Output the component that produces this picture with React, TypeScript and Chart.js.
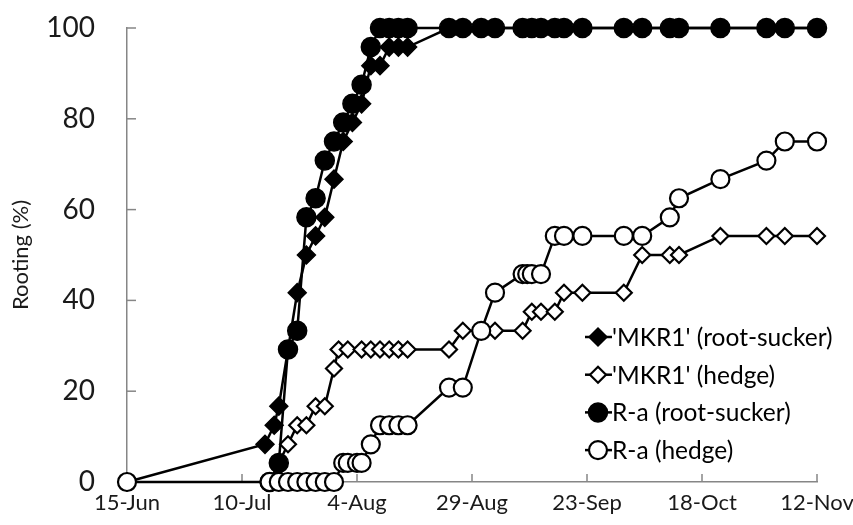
import { useEffect, useRef } from "react";
import { Chart, registerables } from "chart.js";

Chart.register(...registerables);

// x values are days after 15-Jun
const tickLabels = ["15-Jun", "10-Jul", "4-Aug", "29-Aug", "23-Sep", "18-Oct", "12-Nov"];
const yTicks = [0, 20, 40, 60, 80, 100];
const seriesNames = ["'MKR1' (root-sucker)", "'MKR1' (hedge)", "R-a (root-sucker)", "R-a (hedge)"];

const mkr1RootDays = [0, 30, 32, 33, 37, 39, 41, 43, 45, 47, 49, 51, 53, 55, 57, 59, 61, 70, 73, 77, 80, 86, 88, 90, 93, 95, 99, 108, 112, 118, 120, 129, 139, 143, 150];
const mkr1RootValues = [0, 8.3, 12.5, 16.7, 41.7, 50, 54.2, 58.3, 66.7, 75, 79.2, 83.3, 91.7, 91.7, 95.8, 95.8, 95.8, 100, 100, 100, 100, 100, 100, 100, 100, 100, 100, 100, 100, 100, 100, 100, 100, 100, 100];

const mkr1HedgeDays = [31, 35, 37, 39, 41, 43, 45, 46, 48, 51, 53, 55, 57, 59, 61, 70, 73, 80, 86, 88, 90, 93, 95, 99, 108, 112, 118, 120, 129, 139, 143, 150];
const mkr1HedgeValues = [0, 8.3, 12.5, 12.5, 16.7, 16.7, 25, 29.2, 29.2, 29.2, 29.2, 29.2, 29.2, 29.2, 29.2, 29.2, 33.3, 33.3, 33.3, 37.5, 37.5, 37.5, 41.7, 41.7, 41.7, 50, 50, 50, 54.2, 54.2, 54.2, 54.2];

const raRootDays = [31, 33, 35, 37, 39, 41, 43, 45, 47, 49, 51, 53, 55, 57, 59, 61, 70, 73, 77, 80, 86, 88, 90, 93, 95, 99, 108, 112, 118, 120, 129, 139, 143, 150];
const raRootValues = [0, 4.2, 29.2, 33.3, 58.3, 62.5, 70.8, 75, 79.2, 83.3, 87.5, 95.8, 100, 100, 100, 100, 100, 100, 100, 100, 100, 100, 100, 100, 100, 100, 100, 100, 100, 100, 100, 100, 100, 100];

const raHedgeDays = [0, 31, 33, 35, 37, 39, 41, 43, 45, 47, 48, 50, 51, 53, 55, 57, 59, 61, 70, 73, 77, 80, 86, 87, 88, 90, 93, 95, 99, 108, 112, 118, 120, 129, 139, 143, 150];
const raHedgeValues = [0, 0, 0, 0, 0, 0, 0, 0, 0, 4.2, 4.2, 4.2, 4.2, 8.3, 12.5, 12.5, 12.5, 12.5, 20.8, 20.8, 33.3, 41.7, 45.8, 45.8, 45.8, 45.8, 54.2, 54.2, 54.2, 54.2, 54.2, 58.3, 62.5, 66.7, 70.8, 75, 75];

const FONT = "Lato, 'DejaVu Sans', sans-serif";

type Style = { shape: "diamond" | "circle"; filled: boolean; r: number; bw: number };
const styles: Style[] = [
  { shape: "diamond", filled: true, r: 9, bw: 1.5 },
  { shape: "diamond", filled: false, r: 8, bw: 2.2 },
  { shape: "circle", filled: true, r: 9.5, bw: 1.5 },
  { shape: "circle", filled: false, r: 9, bw: 2.2 },
];

function drawMarker(ctx: CanvasRenderingContext2D, x: number, y: number, s: Style) {
  ctx.beginPath();
  if (s.shape === "circle") {
    ctx.arc(x, y, s.r, 0, Math.PI * 2);
  } else {
    ctx.moveTo(x - s.r, y);
    ctx.lineTo(x, y - s.r);
    ctx.lineTo(x + s.r, y);
    ctx.lineTo(x, y + s.r);
    ctx.closePath();
  }
  ctx.fillStyle = s.filled ? "#000" : "#fff";
  ctx.fill();
  ctx.lineWidth = s.bw;
  ctx.strokeStyle = "#000";
  ctx.stroke();
}

const zeroPadding = (scale: any) => {
  scale.paddingTop = 0;
  scale.paddingBottom = 0;
  scale.paddingLeft = 0;
  scale.paddingRight = 0;
};

const decorPlugin = {
  id: "decor",
  beforeDatasetsDraw(chart: any) {
    const { ctx, chartArea, scales } = chart;
    const x = scales.x;
    const y = scales.y;
    ctx.save();
    ctx.strokeStyle = "#868686";
    ctx.lineWidth = 1.5;
    x.ticks.forEach((t: any) => {
      const px = x.getPixelForValue(t.value);
      ctx.beginPath();
      ctx.moveTo(px, chartArea.bottom);
      ctx.lineTo(px, chartArea.bottom - 8);
      ctx.stroke();
    });
    y.ticks.forEach((t: any) => {
      const py = y.getPixelForValue(t.value);
      ctx.beginPath();
      ctx.moveTo(chartArea.left, py);
      ctx.lineTo(chartArea.left + 9, py);
      ctx.stroke();
    });
    ctx.restore();
  },
  afterDraw(chart: any) {
    const { ctx, chartArea } = chart;
    ctx.save();
    const x0 = chartArea.right - 232;
    const y0 = chartArea.top + 309;
    const step = 37.7;
    ctx.font = `24.5px ${FONT}`;
    ctx.textBaseline = "middle";
    ctx.textAlign = "left";
    seriesNames.forEach((name, i) => {
      const yy = y0 + i * step;
      ctx.beginPath();
      ctx.moveTo(x0, yy);
      ctx.lineTo(x0 + 27, yy);
      ctx.lineWidth = 2.5;
      ctx.strokeStyle = "#000";
      ctx.stroke();
      drawMarker(ctx, x0 + 13, yy, styles[i]);
      ctx.fillStyle = "#000";
      ctx.fillText(name, x0 + 27, yy + 1);
    });
    ctx.restore();
  },
};

export default function App() {
  const ref = useRef<HTMLCanvasElement | null>(null);

  useEffect(() => {
    if (!ref.current) return;
    const series = [
      [mkr1RootDays, mkr1RootValues],
      [mkr1HedgeDays, mkr1HedgeValues],
      [raRootDays, raRootValues],
      [raHedgeDays, raHedgeValues],
    ];
    const datasets = series.map(([days, vals], i) => {
      const s = styles[i];
      return {
        label: seriesNames[i],
        data: days.map((d, k) => ({ x: d, y: vals[k] })),
        borderColor: "#000",
        borderWidth: 2.5,
        tension: 0,
        fill: false,
        pointStyle: s.shape === "circle" ? "circle" : "rectRot",
        pointRadius: s.r,
        pointHoverRadius: s.r,
        pointBackgroundColor: s.filled ? "#000" : "#fff",
        pointBorderColor: "#000",
        pointBorderWidth: s.bw,
        clip: false as any,
        order: 4 - i,
      };
    });
    const chart = new Chart(ref.current, {
      type: "line",
      data: { datasets: datasets as any },
      options: {
        animation: false,
        responsive: false,
        devicePixelRatio: 1,
        layout: { padding: { left: 0, top: 28, right: 36, bottom: 0 } },
        plugins: { legend: { display: false }, tooltip: { enabled: false } },
        scales: {
          x: {
            type: "linear",
            min: 0,
            max: 150,
            afterBuildTicks: (scale: any) => {
              scale.ticks = tickLabels.map((_, i) => ({ value: i * 25 }));
            },
            ticks: {
              callback: (v: any) => tickLabels[Math.round(Number(v) / 25)] ?? "",
              font: { family: FONT, size: 22 },
              color: "#1a1a1a",
              padding: 8,
              maxRotation: 0,
              autoSkip: false,
            },
            grid: { display: false, drawTicks: false },
            border: { display: true, color: "#868686", width: 1.5 },
            afterFit: (scale: any) => {
              scale.height = 43;
              zeroPadding(scale);
            },
          },
          y: {
            type: "linear",
            min: 0,
            max: 100,
            afterBuildTicks: (scale: any) => {
              scale.ticks = yTicks.map((v) => ({ value: v }));
            },
            ticks: {
              font: { family: FONT, size: 28 },
              color: "#1a1a1a",
              padding: 32,
            },
            grid: { display: false, drawTicks: false },
            border: { display: true, color: "#868686", width: 1.5 },
            title: {
              display: true,
              text: "Rooting (%)",
              font: { family: FONT, size: 22 },
              color: "#1a1a1a",
              padding: { top: 8, bottom: 0 },
            },
            afterFit: (scale: any) => {
              scale.width = 127;
              zeroPadding(scale);
            },
          },
        },
      },
      plugins: [decorPlugin],
    });
    return () => chart.destroy();
  }, []);

  return (
    <div style={{ position: "fixed", left: 0, top: 0, width: 853, height: 525, background: "#fff" }}>
      <canvas ref={ref} width={853} height={525} style={{ width: 853, height: 525 }} />
    </div>
  );
}
